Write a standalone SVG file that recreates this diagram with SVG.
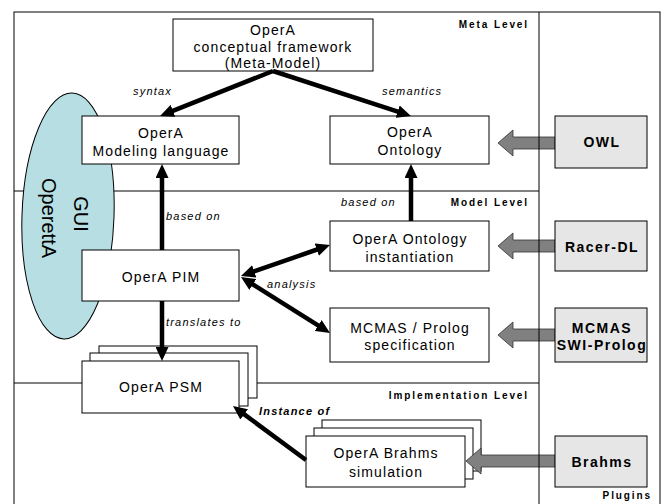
<svg xmlns="http://www.w3.org/2000/svg" width="664" height="504" viewBox="0 0 664 504">
<style>
text{font-family:"Liberation Sans",Arial,Helvetica,sans-serif;fill:#000}
.box{fill:#fff;stroke:#000;stroke-width:1}
.plug{fill:#e6e6e6;stroke:#000;stroke-width:1}
.t{font-size:14px;letter-spacing:1.1px;text-anchor:middle}
.pt{font-size:14px;font-weight:bold;letter-spacing:1.5px;text-anchor:middle}
.lvl{font-size:10px;font-weight:bold;letter-spacing:1.9px;text-anchor:end}
.lab{font-size:11px;font-style:italic;letter-spacing:1.2px}
.frame{fill:none;stroke:#000;stroke-width:1}
.conn{stroke:#000;stroke-width:4.5;fill:none}
.blk{fill:#808080;stroke:#333;stroke-width:0.8}
.gui{font-size:20px;text-anchor:middle}
</style>
<defs>
<marker id="ah" viewBox="0 0 14 13" refX="5" refY="6.5" markerWidth="14" markerHeight="13" markerUnits="userSpaceOnUse" orient="auto-start-reverse">
<path d="M0,0 L14,6.5 L0,13 z" fill="#000"/>
</marker>
</defs>

<g id="frame">
<rect class="frame" x="14" y="12" width="646" height="496"/>
<line class="frame" x1="14" y1="191" x2="539" y2="191"/>
<line class="frame" x1="14" y1="383" x2="539" y2="383"/>
</g>

<g id="gui">
<ellipse cx="68" cy="216" rx="46" ry="123" transform="rotate(2 68 216)" fill="#b7dfe3" stroke="#000" stroke-width="1"/>
<text class="gui" transform="translate(74,214) rotate(90)">GUI</text>
<text class="gui" transform="translate(42,218) rotate(90)">OperettA</text>
</g>

<g id="metamodel">
<rect class="box" x="173" y="19" width="200" height="52"/>
<text class="t" x="273" y="35">OperA</text>
<text class="t" x="273" y="52">conceptual framework</text>
<text class="t" x="273" y="68">(Meta-Model)</text>
</g>

<g id="modeling">
<rect class="box" x="82" y="116" width="157" height="48"/>
<text class="t" x="161" y="138">OperA</text>
<text class="t" x="161" y="156">Modeling language</text>
</g>

<g id="ontology">
<rect class="box" x="330" y="116" width="159" height="48"/>
<text class="t" x="410" y="137">OperA</text>
<text class="t" x="410" y="155">Ontology</text>
</g>

<g id="pim">
<rect class="box" x="82" y="250" width="157" height="51"/>
<text class="t" x="161" y="282">OperA PIM</text>
</g>

<g id="instantiation">
<rect class="box" x="330" y="221" width="159" height="50"/>
<text class="t" x="410" y="244">OperA Ontology</text>
<text class="t" x="410" y="262">instantiation</text>
</g>

<g id="mcmas-spec">
<rect class="box" x="330" y="308" width="159" height="54"/>
<text class="t" x="410" y="333">MCMAS / Prolog</text>
<text class="t" x="410" y="350">specification</text>
</g>

<g id="psm">
<rect class="box" x="99" y="346" width="158" height="52"/>
<rect class="box" x="90" y="353" width="158" height="53"/>
<rect class="box" x="82" y="361" width="157" height="52"/>
<text class="t" x="161" y="392">OperA PSM</text>
</g>

<g id="brahms-sim">
<rect class="box" x="322" y="420" width="159" height="51"/>
<rect class="box" x="314" y="428" width="159" height="51"/>
<rect class="box" x="306" y="436" width="159" height="51"/>
<text class="t" x="386" y="458">OperA Brahms</text>
<text class="t" x="386" y="477">simulation</text>
</g>

<g id="plugin-arrows">
<polygon class="blk" points="498,143 513,130 513,137 555,137 555,149 513,149 513,156"/>
<polygon class="blk" points="498,246 513,233 513,240 555,240 555,252 513,252 513,259"/>
<polygon class="blk" points="498,335 513,322 513,329 555,329 555,341 513,341 513,348"/>
<polygon class="blk" points="466,461 481,448 481,455 555,455 555,467 481,467 481,474"/>
</g>

<g id="separator">
<line class="frame" x1="539" y1="12" x2="539" y2="504"/>
</g>

<g id="owl">
<rect class="plug" x="555" y="116" width="92" height="52"/>
<text class="pt" x="602" y="147">OWL</text>
</g>
<g id="racer">
<rect class="plug" x="555" y="221" width="92" height="50"/>
<text class="pt" x="602" y="252">Racer-DL</text>
</g>
<g id="mcmas">
<rect class="plug" x="555" y="308" width="92" height="54"/>
<text class="pt" x="602" y="333">MCMAS</text>
<text class="pt" x="602" y="350">SWI-Prolog</text>
</g>
<g id="brahms">
<rect class="plug" x="555" y="436" width="92" height="51"/>
<text class="pt" x="602" y="467">Brahms</text>
</g>

<g id="connectors">
<line class="conn" x1="273" y1="71" x2="168.4" y2="112.7" marker-end="url(#ah)"/>
<line class="conn" x1="273" y1="71" x2="402.4" y2="113.2" marker-end="url(#ah)"/>
<line class="conn" x1="162" y1="250" x2="162" y2="173" marker-end="url(#ah)"/>
<line class="conn" x1="162" y1="301" x2="162" y2="352" marker-end="url(#ah)"/>
<line class="conn" x1="411" y1="221" x2="411" y2="173" marker-end="url(#ah)"/>
<line class="conn" x1="249.5" y1="273" x2="321.5" y2="248" marker-start="url(#ah)" marker-end="url(#ah)"/>
<line class="conn" x1="248.6" y1="281.8" x2="322.4" y2="328.2" marker-start="url(#ah)" marker-end="url(#ah)"/>
<line class="conn" x1="306" y1="460" x2="240.2" y2="411.4" marker-end="url(#ah)"/>
</g>

<g id="labels">
<text class="lvl" x="529" y="28">Meta Level</text>
<text class="lvl" x="529" y="206">Model Level</text>
<text class="lvl" x="529" y="399">Implementation Level</text>
<text class="lvl" x="652" y="499">Plugins</text>
<text class="lab" x="133" y="95">syntax</text>
<text class="lab" x="382" y="95">semantics</text>
<text class="lab" x="166" y="220">based on</text>
<text class="lab" x="341" y="206">based on</text>
<text class="lab" x="267" y="288">analysis</text>
<text class="lab" x="166" y="326">translates to</text>
<text class="lab" x="259" y="415" font-weight="bold">Instance of</text>
</g>
</svg>
